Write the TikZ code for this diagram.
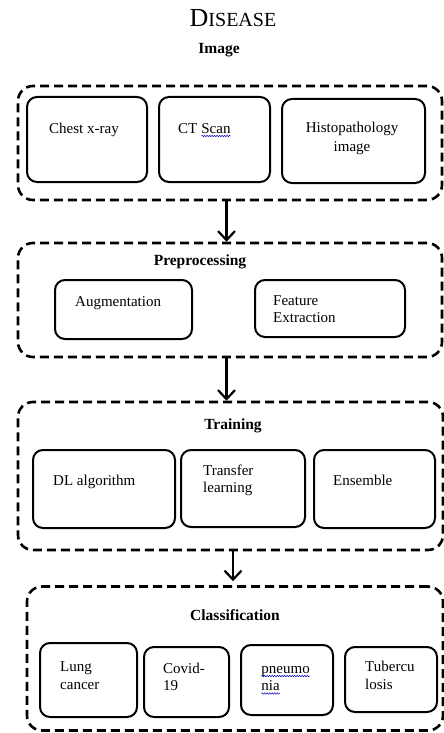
\documentclass[tikz,border=0pt]{standalone}
\usepackage{fontspec}
\setmainfont{Liberation Serif}
\usetikzlibrary{arrows.meta,decorations.pathmorphing}
\newcommand\bluewave[1]{\tikz[baseline=(sqw.base), x=1pt, y=1pt]{\node[inner sep=0pt, outer sep=0pt, draw=none] (sqw) {#1}; \draw[blue!75!black, line width=0.5pt, decorate, decoration={snake, amplitude=0.7pt, segment length=2.5pt}] ([yshift=-3pt]sqw.base west) -- ([yshift=-3pt]sqw.base east);}}
\tikzset{
  groupbox/.style={draw=black, line width=2.6pt, dash pattern=on 9pt off 5pt, rounded corners=15pt, inner sep=0pt},
  itembox/.style={draw=black, line width=2pt, rounded corners=10pt, inner sep=0pt},
  itemtext/.style={inner sep=0pt, anchor=base west, align=left, font=\fontsize{15}{17.5}\selectfont},
  centertext/.style={inner sep=0pt, anchor=base, align=center, font=\fontsize{15}{19.5}\selectfont},
  grouptitle/.style={inner sep=0pt, anchor=base, font=\fontsize{15.5}{18}\selectfont\bfseries},
  flowarrow/.style={line width=2.2pt, -{Straight Barb[length=9pt,width=17pt,line width=2.2pt]}}
}
\begin{document}
\begin{tikzpicture}[x=1pt,y=-1pt]
\useasboundingbox (0,0) rectangle (444,733);
% title
\node[inner sep=0pt, anchor=base] (title) at (233,27) {\fontsize{26}{30}\selectfont D\fontsize{20}{24}\selectfont ISEASE};
% group 1
\node[grouptitle] (t1) at (219,54) {Image};
\node[groupbox, minimum width=424, minimum height=114] (g1) at (230,143) {};
\node[itembox, minimum width=120, minimum height=85] (b1a) at (87,139.5) {};
\node[itembox, minimum width=111, minimum height=85] (b1b) at (214.5,139.5) {};
\node[itembox, minimum width=143, minimum height=84] (b1c) at (353.5,141) {};
\node[itemtext] (x1a) at (49,133) {Chest x-ray};
\node[itemtext] (x1b) at (178,133) {CT \bluewave{Scan}};
\node[centertext] (x1c) at (352,151.5) {Histopathology\\image};
% group 2
\node[groupbox, minimum width=424, minimum height=114] (g2) at (230,300) {};
\node[grouptitle] (t2) at (200,265) {Preprocessing};
\node[itembox, minimum width=137, minimum height=59] (b2a) at (123.5,309.5) {};
\node[itembox, minimum width=150, minimum height=57] (b2b) at (330,308.5) {};
\node[itemtext] (x2a) at (75,306) {Augmentation};
\node[itemtext] (x2b) at (273,322.5) {Feature\\Extraction};
% group 3
\node[groupbox, minimum width=425, minimum height=148] (g3) at (230.5,476) {};
\node[grouptitle] (t3) at (233,429) {Training};
\node[itembox, minimum width=142, minimum height=78] (b3a) at (104,489) {};
\node[itembox, minimum width=124, minimum height=77] (b3b) at (243,488.5) {};
\node[itembox, minimum width=121, minimum height=78] (b3c) at (374.5,489) {};
\node[itemtext] (x3a) at (53,485) {DL algorithm};
\node[itemtext] (x3b) at (203,492.5) {Transfer\\learning};
\node[itemtext] (x3c) at (333,485) {Ensemble};
% group 4
\node[groupbox, minimum width=416, minimum height=144] (g4) at (235,658.5) {};
\node[grouptitle] (t4) at (235,620) {Classification};
\node[itembox, minimum width=97, minimum height=74] (b4a) at (88.5,680) {};
\node[itembox, minimum width=85, minimum height=70] (b4b) at (186.5,682) {};
\node[itembox, minimum width=92, minimum height=70] (b4c) at (287,680) {};
\node[itembox, minimum width=92, minimum height=65] (b4d) at (391,679.5) {};
\node[itemtext] (x4a) at (60,689) {Lung\\cancer};
\node[itemtext] (x4b) at (163,690.5) {Covid-\\19};
\node[itemtext] (x4c) at (261,690.5) {\bluewave{pneumo}\\\bluewave{nia}};
\node[itemtext] (x4d) at (365,689) {Tubercu\\losis};
% arrows
\coordinate (a1) at (226.5,0);
\coordinate (a3) at (233,0);
\draw[flowarrow] (a1 |- g1.south) -- (a1 |- g2.north);
\draw[flowarrow] (a1 |- g2.south) -- (a1 |- g3.north);
\draw[flowarrow, shorten >=4pt] (a3 |- g3.south) -- (a3 |- g4.north);
\end{tikzpicture}
\end{document}
